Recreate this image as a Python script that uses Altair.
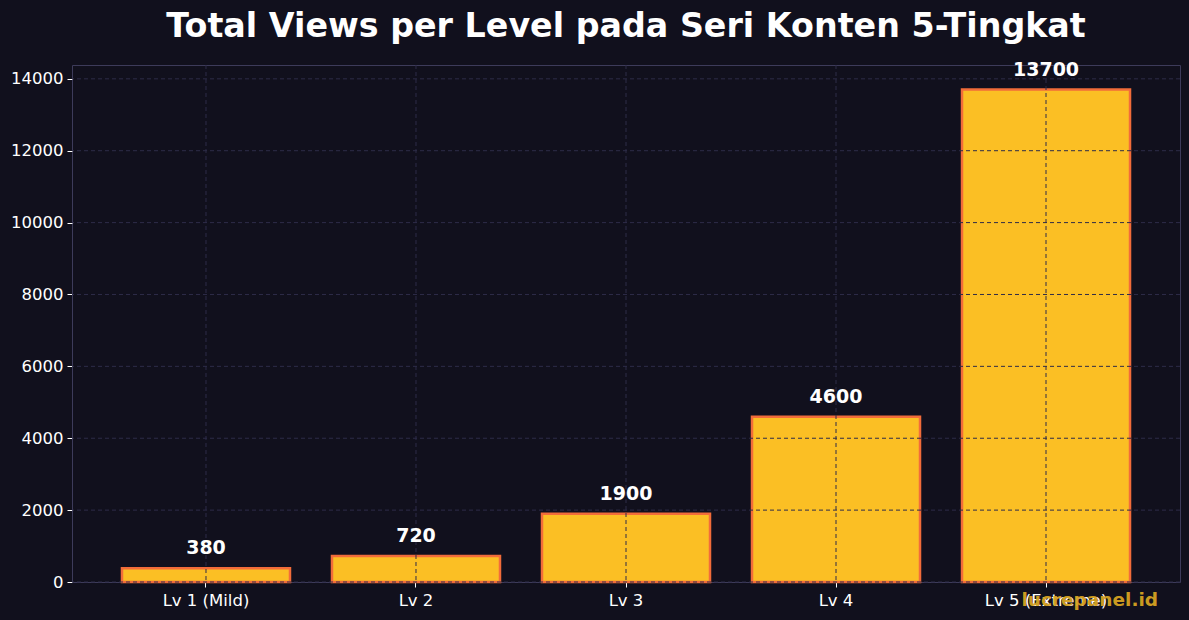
import altair as alt
import pandas as pd

# Data: total views for each level of the 5-tier content series
levels = ["Lv 1 (Mild)", "Lv 2", "Lv 3", "Lv 4", "Lv 5 (Extreme)"]
views = [380, 720, 1900, 4600, 13700]
y_ticks = [0, 2000, 4000, 6000, 8000, 10000, 12000, 14000]

df = pd.DataFrame({"level": levels, "views": views})
grid_x = pd.DataFrame({"level": levels})
grid_y = pd.DataFrame({"views": y_ticks})

BG = "#11101d"
GRID = "#2e2c48"
FRAME = "#3d3b5a"
FONT = "DejaVu Sans"

x_enc = alt.X(
    "level:N",
    sort=levels,
    title=None,
    scale=alt.Scale(paddingInner=0.2, paddingOuter=0.238),
    axis=alt.Axis(
        labelAngle=0,
        bandPosition=0.5,
        grid=False,
        domain=False,
        tickColor="white",
        tickSize=5,
        labelColor="white",
        labelFont=FONT,
        labelFontSize=16.5,
        labelPadding=5,
    ),
)

y_enc = alt.Y(
    "views:Q",
    title=None,
    scale=alt.Scale(domain=[0, 14385], nice=False, zero=True),
    axis=alt.Axis(
        values=y_ticks,
        format="d",
        grid=False,
        domain=False,
        tickColor="white",
        tickSize=5,
        labelColor="white",
        labelFont=FONT,
        labelFontSize=16.5,
        labelPadding=4,
    ),
)

base = alt.Chart(df)

bars = base.mark_bar(color="#fbbf24", stroke="#f26c3a", strokeWidth=2.5).encode(
    x=x_enc, y=y_enc
)

# dashed grid drawn above the bars but below the value labels
vgrid = alt.Chart(grid_x).mark_rule(
    color=GRID, strokeDash=[4, 3], strokeWidth=1
).encode(x=alt.X("level:N", sort=levels))
hgrid = alt.Chart(grid_y).mark_rule(
    color=GRID, strokeDash=[4, 3], strokeWidth=1
).encode(y=alt.Y("views:Q"))

labels = base.mark_text(
    dy=-10,
    baseline="bottom",
    fontWeight="bold",
    fontSize=19,
    color="white",
    font=FONT,
).encode(x=alt.X("level:N", sort=levels), y=alt.Y("views:Q"), text=alt.Text("views:Q", format="d"))

watermark = alt.Chart(pd.DataFrame({"t": ["lucrepanel.id"]})).mark_text(
    align="right",
    baseline="middle",
    fontSize=18.5,
    fontWeight="bold",
    color="#d6a222",
    opacity=0.95,
    font=FONT,
).encode(x=alt.value(1086), y=alt.value(535), text="t:N")

chart = (
    alt.layer(bars, vgrid, hgrid, labels, watermark)
    .properties(
        width=1108,
        height=517,
        autosize=alt.AutoSizeParams(type="none"),
        padding={"left": 72, "top": 65, "right": 9, "bottom": 38},
        background=BG,
        title=alt.TitleParams(
            "Total Views per Level pada Seri Konten 5-Tingkat",
            fontSize=33.3,
            fontWeight="bold",
            color="white",
            font=FONT,
            anchor="middle",
            offset=16,
        ),
    )
    .configure_view(stroke=FRAME, strokeWidth=1, fill=BG)
)

chart.save("out.html", embed_options={"renderer": "svg", "actions": False})
